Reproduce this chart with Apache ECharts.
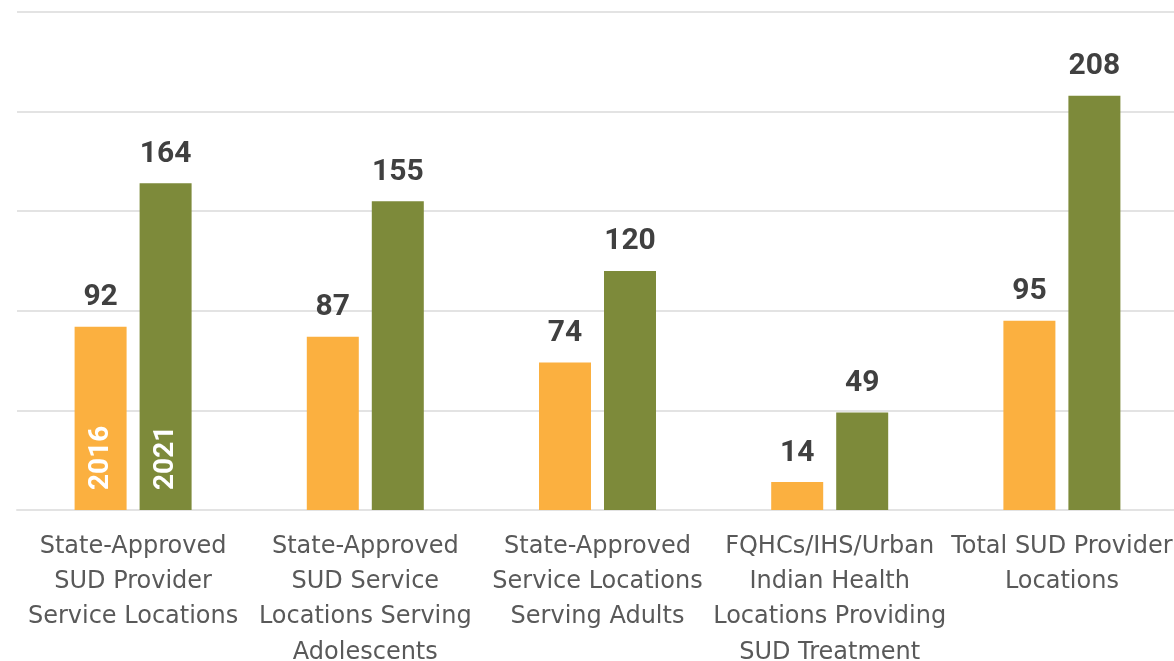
<!DOCTYPE html>
<html>
<head>
<meta charset="utf-8">
<script src="https://cdn.jsdelivr.net/npm/echarts@6/dist/echarts.min.js"></script>
<style>
html, body { margin: 0; padding: 0; background: #fff; }
#graph { width: 1174px; height: 661px; }
</style>
</head>
<body>
<div id="graph"></div>
<script>
// categories and values
const categories = [
  'State-Approved\nSUD Provider\nService Locations',
  'State-Approved\nSUD Service\nLocations Serving\nAdolescents',
  'State-Approved\nService Locations\nServing Adults',
  'FQHCs/IHS/Urban\nIndian Health\nLocations Providing\nSUD Treatment',
  'Total SUD Provider\nLocations'
]
const years = ['2016', '2021']
const values2016 = [92, 87, 74, 14, 95]
const values2021 = [164, 155, 120, 49, 208]

const colors = ['#FBB040', '#7D8A3A']

let dom = document.getElementById('graph')
let myChart = echarts.init(dom)

const topLabel = {
  show: true,
  position: 'top',
  distance: 14,
  color: '#404040',
  fontSize: 30,
  fontWeight: 'bold',
  fontFamily: 'Roboto'
}

// zero-height bar stacked under the real one, only there to write the year inside the first bar
function yearSeries (year, stack) {
  return {
    name: year + ' label',
    type: 'bar',
    stack: stack,
    barWidth: 52,
    barGap: '25%',
    data: categories.map((c, i) => i === 0 ? 0 : '-'),
    itemStyle: { color: 'transparent' },
    label: {
      show: true,
      position: 'insideBottom',
      rotate: 90,
      align: 'left',
      verticalAlign: 'middle',
      distance: 20,
      formatter: year,
      color: '#fff',
      fontSize: 28,
      fontWeight: 'bold',
      fontFamily: 'Roboto'
    },
    z: 3
  }
}

let option = {
  animation: false,
  grid: { left: 17, right: -4, top: 12, bottom: 151, outerBoundsMode: 'none' },
  xAxis: {
    type: 'category',
    data: categories,
    axisLine: { lineStyle: { color: '#e3e3e3', width: 2 } },
    axisTick: { show: false },
    axisLabel: {
      interval: 0,
      margin: 19,
      color: '#595959',
      fontSize: 24,
      lineHeight: 35.3,
      fontFamily: 'DejaVu Sans'
    }
  },
  yAxis: {
    type: 'value',
    min: 0,
    max: 250,
    interval: 50,
    axisLabel: { show: false },
    axisLine: { show: false },
    axisTick: { show: false },
    splitLine: { lineStyle: { color: '#e3e3e3', width: 2 } }
  },
  series: [
    yearSeries(years[0], 'a'),
    {
      name: years[0],
      type: 'bar',
      stack: 'a',
      data: values2016,
      barWidth: 52,
      barGap: '25%',
      itemStyle: { color: colors[0] },
      label: topLabel
    },
    yearSeries(years[1], 'b'),
    {
      name: years[1],
      type: 'bar',
      stack: 'b',
      data: values2021,
      barWidth: 52,
      barGap: '25%',
      itemStyle: { color: colors[1] },
      label: topLabel
    }
  ]
}

myChart.setOption(option)
</script>
</body>
</html>
